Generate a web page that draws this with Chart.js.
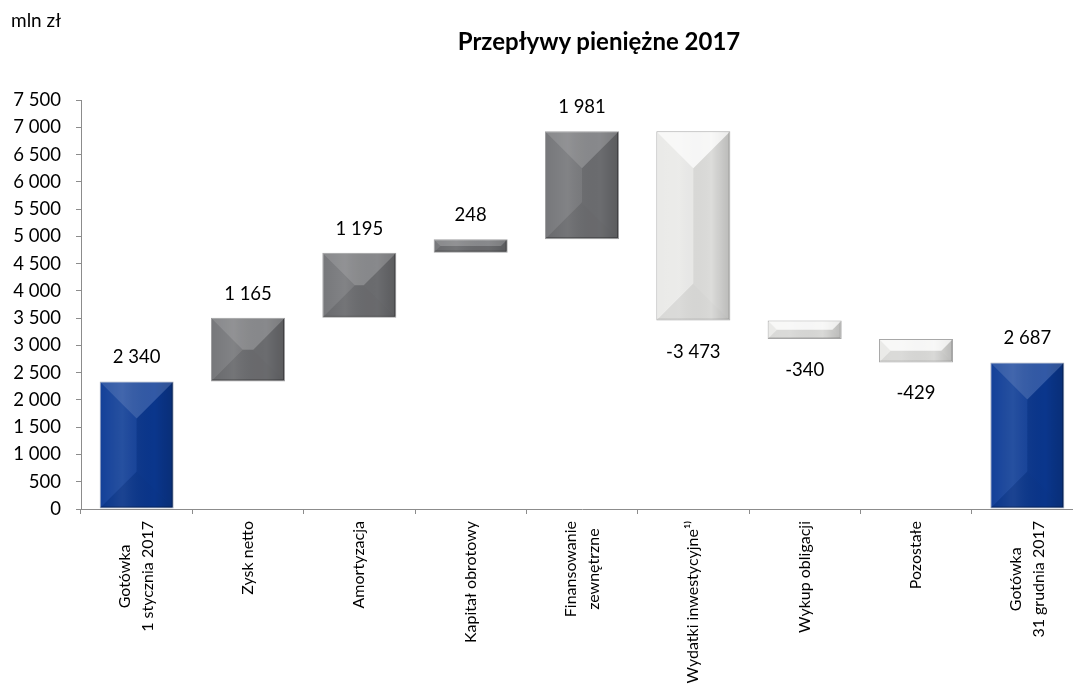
<!DOCTYPE html>
<html lang="pl">
<head>
<meta charset="UTF-8">
<script src="https://cdn.jsdelivr.net/npm/chart.js"></script>
<style>
    body { margin: 0; overflow: hidden; background: #fff; font-family: Lato, sans-serif; }
    .wrap { position: relative; width: 1073px; height: 685px; overflow: hidden; }
    #unit { position: absolute; left: 11px; top: 9px; font-size: 19px; line-height: 22px; color: #000; }
    #title { position: absolute; left: 599px; top: 27px; transform: translateX(-50%); font-size: 24px; line-height: 28px; font-weight: bold; white-space: nowrap; }
    canvas { position: absolute; left: 0; top: 0; }
</style>
<title>Przepływy pieniężne 2017</title>
</head>
<body>
<div class="wrap">
    <canvas id="myChart" width="1090" height="685"></canvas>
    <div id="unit">mln zł</div>
    <div id="title">Przepływy pieniężne 2017</div>
</div>

<script>
// dane (mln zł)
const categories = [
    ['Gotówka', '1 stycznia 2017'],
    'Zysk netto',
    'Amortyzacja',
    'Kapitał obrotowy',
    ['Finansowanie', 'zewnętrzne'],
    'Wydatki inwestycyjne¹⁾',
    'Wykup obligacji',
    'Pozostałe',
    ['Gotówka', '31 grudnia 2017']
];
const values = [2340, 1165, 1195, 248, 1981, -3473, -340, -429, 2687];
const kinds = ['total', 'delta', 'delta', 'delta', 'delta', 'delta', 'delta', 'delta', 'total'];
const yTicks = { min: 0, max: 7500, step: 500 };

// waterfall: przedziały [od, do]
const ranges = [];
let running = 0;
values.forEach((v, i) => {
    if (kinds[i] === 'total') {
        ranges.push([0, v]);
        running = v;
    } else {
        ranges.push([running, running + v]);
        running += v;
    }
});

const fills = values.map((v, i) => kinds[i] === 'total' ? '#0b3a95' : (v >= 0 ? '#727376' : '#eaeae8'));
const borders = values.map((v, i) => kinds[i] === 'total' ? '#a5abbb' : (v >= 0 ? '#a0a0a2' : '#a8a8a8'));

function fmt(v) {
    const a = Math.abs(v);
    let s = a >= 1000 ? Math.floor(a / 1000) + ' ' + String(a % 1000).padStart(3, '0') : String(a);
    return (v < 0 ? '-' : '') + s;
}

// efekt "piramidy" na słupkach
const bevel = {
    id: 'bevel',
    afterDatasetsDraw(chart) {
        const ctx = chart.ctx;
        chart.getDatasetMeta(0).data.forEach((bar, i) => {
            const l = bar.x - bar.width / 2 + 1, r = bar.x + bar.width / 2 - 1;
            const t = Math.min(bar.y, bar.base) + 1, b = Math.max(bar.y, bar.base) - 1;
            const w = r - l, h = b - t;
            const d = Math.min(w, h) / 2;
            const light = values[i] < 0 && kinds[i] !== 'total';
            ctx.save();
            // poziomy gradient
            const g = ctx.createLinearGradient(l, 0, r, 0);
            g.addColorStop(0, 'rgba(255,255,255,0.0)');
            g.addColorStop(0.3, 'rgba(255,255,255,0.08)');
            g.addColorStop(0.75, 'rgba(0,0,0,0.0)');
            g.addColorStop(1, 'rgba(0,0,0,0.15)');
            ctx.fillStyle = g;
            ctx.fillRect(l, t, w, h);
            const poly = (pts, color) => {
                ctx.beginPath();
                ctx.moveTo(pts[0][0], pts[0][1]);
                pts.slice(1).forEach(p => ctx.lineTo(p[0], p[1]));
                ctx.closePath();
                ctx.fillStyle = color;
                ctx.fill();
            };
            // góra
            poly([[l, t], [r, t], [r - d, t + d], [l + d, t + d]], light ? 'rgba(255,255,255,0.65)' : 'rgba(255,255,255,0.16)');
            // dół
            poly([[l, b], [r, b], [r - d, b - d], [l + d, b - d]], 'rgba(0,0,0,0.07)');
            // lewa
            poly([[l, t], [l, b], [l + d, b - d], [l + d, t + d]], 'rgba(255,255,255,0.04)');
            // prawa
            poly([[r, t], [r, b], [r - d, b - d], [r - d, t + d]], 'rgba(0,0,0,0.06)');
            // krawędzie
            ctx.strokeStyle = light ? 'rgba(0,0,0,0.12)' : 'rgba(0,0,0,0.3)';
            ctx.lineWidth = 1;
            ctx.beginPath();
            ctx.moveTo(r - 0.5, t); ctx.lineTo(r - 0.5, b - 0.5); ctx.lineTo(l, b - 0.5);
            ctx.stroke();
            ctx.restore();
        });
    }
};

// etykiety wartości i kategorii
const labelsPlugin = {
    id: 'labelsPlugin',
    afterDraw(chart) {
        const ctx = chart.ctx;
        const xs = chart.scales.x;
        ctx.save();
        ctx.fillStyle = '#000';
        ctx.textAlign = 'center';
        ctx.textBaseline = 'middle';
        ctx.font = '18.5px Lato';
        chart.getDatasetMeta(0).data.forEach((bar, i) => {
            const t = Math.min(bar.y, bar.base), b = Math.max(bar.y, bar.base);
            if (values[i] >= 0) ctx.fillText(fmt(values[i]), bar.x, t - 24);
            else ctx.fillText(fmt(values[i]), bar.x, b + 31);
        });
        // etykiety osi X, obrócone
        ctx.font = '16px Lato';
        const top = xs.top + 12;
        categories.forEach((c, i) => {
            const lines = Array.isArray(c) ? c : [c];
            const x = xs.getPixelForValue(i);
            const maxW = Math.max(...lines.map(s => ctx.measureText(s).width));
            const lh = 23;
            lines.forEach((s, k) => {
                const dx = (k - (lines.length - 1) / 2) * lh;
                ctx.save();
                ctx.translate(x + dx, top + maxW / 2);
                ctx.rotate(-Math.PI / 2);
                ctx.fillText(s, 0, 0);
                ctx.restore();
            });
        });
        ctx.restore();
    }
};

new Chart(document.getElementById('myChart').getContext('2d'), {
    type: 'bar',
    data: {
        labels: categories,
        datasets: [{
            data: ranges,
            backgroundColor: fills,
            borderColor: borders,
            borderWidth: 1,
            borderSkipped: false,
            categoryPercentage: 1,
            barPercentage: 0.665
        }]
    },
    plugins: [bevel, labelsPlugin],
    options: {
        responsive: false,
        animation: false,
        layout: { padding: { top: 100, left: 0, right: 7, bottom: 0 } },
        plugins: {
            legend: { display: false },
            tooltip: { enabled: false }
        },
        scales: {
            x: {
                afterFit: s => { s.height = 176; },
                grid: { drawOnChartArea: false, tickLength: 5, color: '#8c8c8c', offset: true },
                border: { color: '#8c8c8c' },
                ticks: { display: false }
            },
            y: {
                min: yTicks.min,
                max: yTicks.max,
                afterFit: s => { s.width = 81; },
                grid: { drawOnChartArea: false, tickLength: 5, color: '#8c8c8c' },
                border: { color: '#8c8c8c' },
                ticks: {
                    stepSize: yTicks.step,
                    padding: 15,
                    color: '#000',
                    font: { family: 'Lato', size: 18.5 },
                    callback: v => fmt(v)
                }
            }
        }
    }
});
</script>
</body>
</html>
